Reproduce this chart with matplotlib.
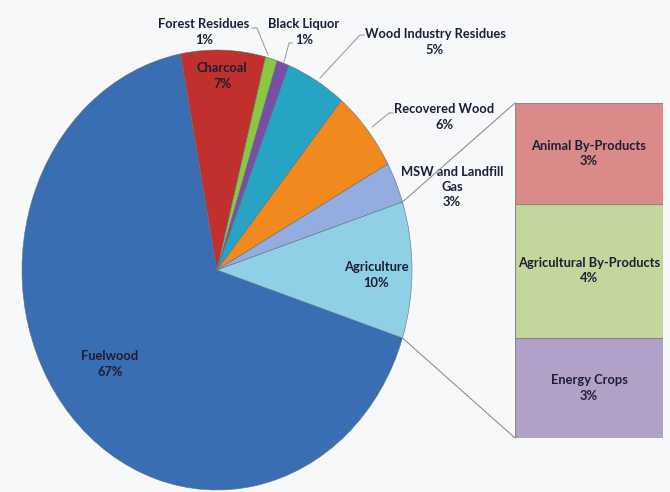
import numpy as np
import matplotlib
matplotlib.use('Agg')
import matplotlib.pyplot as plt
from matplotlib.patches import ConnectionPatch

# pie data (clockwise from the Agriculture slice)
labels = ['Fuelwood', 'Charcoal', 'Forest Residues', 'Black Liquor',
          'Wood Industry Residues', 'Recovered Wood', 'MSW and Landfill\nGas', 'Agriculture']
values = [67, 7, 1, 1, 5, 6, 3, 10]
colors = ['#3a6eb2', '#c0302d', '#8dc63f', '#7a4ea6', '#27a3c3', '#f08a1f', '#93ade0', '#8fd0e6']

# breakdown of Agriculture (bottom to top)
sub_labels = ['Energy Crops', 'Agricultural By-Products', 'Animal By-Products']
sub_values = [3, 4, 3]
sub_colors = ['#b2a1c7', '#c3d69b', '#da8b89']

W, H = 670, 492
bg = '#f6f8f9'
txt = '#1d1d35'
plt.rcParams['font.family'] = ['Lato', 'DejaVu Sans']

fig = plt.figure(figsize=(W / 100, H / 100), dpi=100, facecolor=bg)
ax = fig.add_axes([0, 0, 1, 1])
ax.set_facecolor(bg)

cx, cy, rx, ry = 217, 270, 195, 220   # pie centre / radii in pixels


def px(x):
    return (x - cx) / rx


def py(y):
    return (cy - y) / ry


wedges, _ = ax.pie(values, colors=colors, startangle=-18, counterclock=False,
                   wedgeprops=dict(edgecolor='#5f6f80', linewidth=0.4))
ax.set_aspect('auto')
ax.set_xlim(px(0), px(W))
ax.set_ylim(py(H), py(0))
ax.axis('off')

fs = 9.3
kw = dict(ha='center', va='center', fontsize=fs, fontweight='bold', color=txt, linespacing=1.35)

# labels inside / outside
ax.text(px(110), py(364), f'{labels[0]}\n{values[0]}%', **kw)
ax.text(px(222), py(76), f'{labels[1]}\n{values[1]}%', **kw)
ax.text(px(376), py(275), f'{labels[7]}\n{values[7]}%', **kw)
ax.text(px(204), py(32), f'{labels[2]}\n{values[2]}%', **kw)
ax.text(px(304), py(32), f'{labels[3]}\n{values[3]}%', **kw)
ax.text(px(435), py(42), f'{labels[4]}\n{values[4]}%', **kw)
ax.text(px(444), py(117), f'{labels[5]}\n{values[5]}%', **kw)
ax.text(px(452), py(187), f'{labels[6]}\n{values[6]}%', **kw)

# leader lines
lc = dict(color='#a0a0a0', linewidth=0.8)
ax.plot([px(252), px(257), px(268)], [py(28), py(28), py(55)], **lc)
ax.plot([px(292), px(289), px(284)], [py(43), py(43), py(62)], **lc)
ax.plot([px(364), px(360), px(320)], [py(35), py(35), py(78)], **lc)
ax.plot([px(393), px(389), px(372)], [py(113), py(113), py(127)], **lc)

# stacked bar for the Agriculture breakdown
bx0, bx1, by0, by1 = 515, 663, 103, 438
bax = fig.add_axes([bx0 / W, 1 - by1 / H, (bx1 - bx0) / W, (by1 - by0) / H])
bottom = 0
for lab, v, c in zip(sub_labels, sub_values, sub_colors):
    bax.bar(0, v, width=1, bottom=bottom, color=c, edgecolor='#8a8a8a', linewidth=0.8)
    bax.text(0, bottom + v / 2, f'{lab}\n{v}%', **kw)
    bottom += v
bax.set_xlim(-0.5, 0.5)
bax.set_ylim(0, sum(sub_values))
bax.axis('off')

# connector lines from the Agriculture slice to the bar
agri = wedges[-1]
for ang, yb in [(agri.theta2, sum(sub_values)), (agri.theta1, 0)]:
    t = np.deg2rad(ang)
    con = ConnectionPatch(xyA=(np.cos(t), np.sin(t)), coordsA=ax.transData,
                          xyB=(-0.5, yb), coordsB=bax.transData,
                          color='#909090', linewidth=0.8)
    fig.add_artist(con)

fig.savefig('out.png', dpi=100, facecolor=bg)
